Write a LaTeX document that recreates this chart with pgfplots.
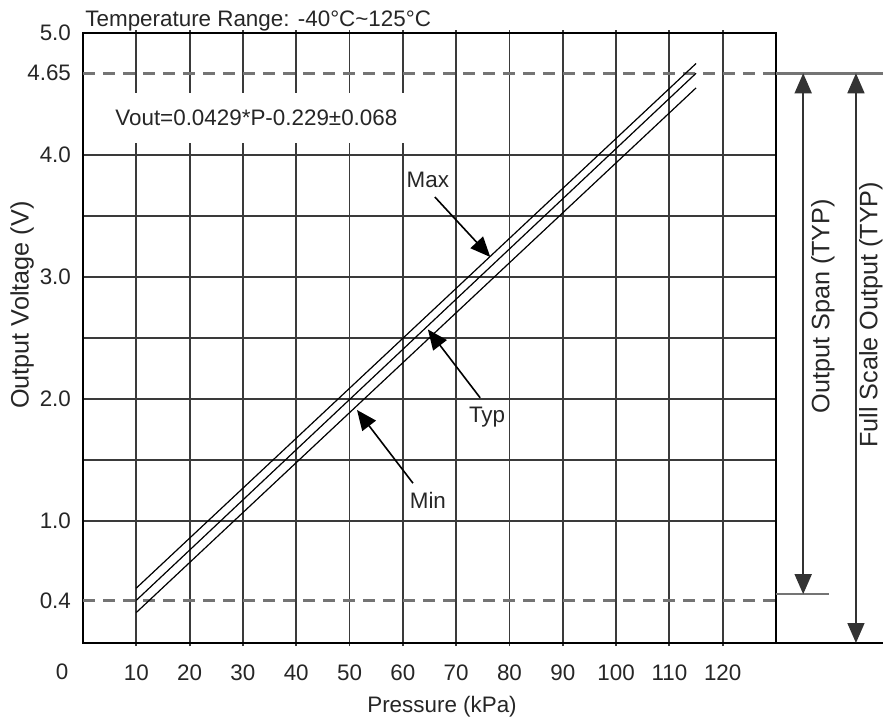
\documentclass[border=0pt]{standalone}
\usepackage{fontspec}
\setmainfont{Liberation Sans}
\usepackage{pgfplots}
\pgfplotsset{compat=1.18}
\usetikzlibrary{arrows.meta}
\definecolor{gridInk}{HTML}{3A3A3A}
\definecolor{dashInk}{HTML}{747474}

\newcommand{\hfnt}{\fontsize{11.2}{13}\selectfont}
\newcommand{\vfnt}{\fontsize{12.6}{14}\selectfont}

\begin{document}
\begin{tikzpicture}
  \useasboundingbox (-41.5pt,-40pt) rectangle (400pt,321.5pt);
  \begin{axis}[
    at={(0,0)}, anchor=south west,
    scale only axis,
    width=346.5pt, height=305pt,
    xmin=0, xmax=130, ymin=0, ymax=5,
    clip=false,
    xtick={10,20,30,40,50,60,70,80,90,100,110,120},
    xticklabels={10,20,30,40,50,60,70,80,90,100,110,120},
    ytick={1,2,3,4,5},
    yticklabels={1.0,2.0,3.0,4.0,5.0},
    minor ytick={1.5,2.5,3.5},
    extra y ticks={0.35,4.67},
    extra y tick labels={0.4,4.65},
    extra y tick style={
      grid=major,
      major grid style={draw=dashInk, line width=1.3pt, dash pattern=on 6pt off 4pt},
    },
    xmajorgrids, ymajorgrids, yminorgrids,
    major grid style={draw=gridInk, line width=0.9pt},
    minor grid style={draw=gridInk, line width=0.9pt},
    axis line style={draw=black, line width=1pt},
    tick align=outside,
    major tick length=1.5pt,
    minor tick length=0pt,
    xtick style={draw=gridInk, line width=0.9pt},
    ytick style={draw=none},
    tick label style={font=\hfnt, text=black!85},
    xticklabel style={yshift=-6pt},
    yticklabel style={xshift=-1pt},
  ]
    % Max / Typ / Min transfer lines
    \addplot[black, line width=0.6pt] coordinates {(10,0.45) (115,4.75)};
    \addplot[black, line width=0.6pt] coordinates {(10,0.35) (115,4.67)};
    \addplot[black, line width=0.6pt] coordinates {(10,0.25) (115,4.55)};

    % right-hand extension
    \draw[black, line width=1pt] (axis cs:130,0) -- (axis cs:150,0);
    \draw[dashInk, line width=1.3pt] (axis cs:130,4.67) -- (axis cs:150,4.67);
    \draw[dashInk, line width=0.9pt] (axis cs:130,0.40) -- (axis cs:140,0.40);
    \draw[black!80, line width=0.8pt, {Triangle[length=10pt,width=8.5pt]}-{Triangle[length=10pt,width=8.5pt]}]
      (axis cs:135.1,4.67) -- (axis cs:135.1,0.40);
    \draw[black!80, line width=0.8pt, {Triangle[length=10pt,width=8.5pt]}-{Triangle[length=10pt,width=8.5pt]}]
      (axis cs:145,4.67) -- (axis cs:145,0);
    \node[font=\vfnt, text=black!85, rotate=90] at (axis cs:138.8,2.76) {Output Span (TYP)};
    \node[font=\vfnt, text=black!85, rotate=90] at (axis cs:147.8,2.69) {Full Scale Output (TYP)};

    % pointers
    \draw[black, line width=0.8pt, -{Triangle[length=10pt,width=8.5pt]}]
      (axis cs:66.0,3.656) -- (axis cs:76.4,3.164);
    \draw[black, line width=0.8pt, -{Triangle[length=10pt,width=8.5pt]}]
      (axis cs:74.5,2.01) -- (axis cs:64.7,2.57);
    \draw[black, line width=0.8pt, -{Triangle[length=10pt,width=8.5pt]}]
      (axis cs:61.9,1.31) -- (axis cs:51.4,1.91);
    \node[font=\hfnt, text=black!85] at (axis cs:64.7,3.80) {Max};
    \node[font=\hfnt, text=black!85] at (axis cs:75.8,1.85) {Typ};
    \node[font=\hfnt, text=black!85] at (axis cs:64.7,1.17) {Min};

    % texts
    \node[font=\hfnt, text=black!85, anchor=base west, fill=white,
      inner xsep=6pt, inner ysep=0pt, text height=16.5pt, text depth=8.5pt]
      at (axis cs:3.75,4.238) {Vout=0.0429*P-0.229±0.068};
    \node[font=\hfnt, text=black!85, anchor=base west, inner sep=0pt]
      at (axis cs:0.38,5.057) {Temperature Range: -40°C\textasciitilde125°C};
    \node[font=\hfnt, text=black!85] at (axis cs:-3.94,-0.238) {0};
    \node[font=\hfnt, text=black!85] at (axis cs:67.35,-0.525) {Pressure (kPa)};
    \node[font=\vfnt, text=black!85, rotate=90] at (axis cs:-11.44,2.77) {Output Voltage (V)};
  \end{axis}
\end{tikzpicture}
\end{document}
